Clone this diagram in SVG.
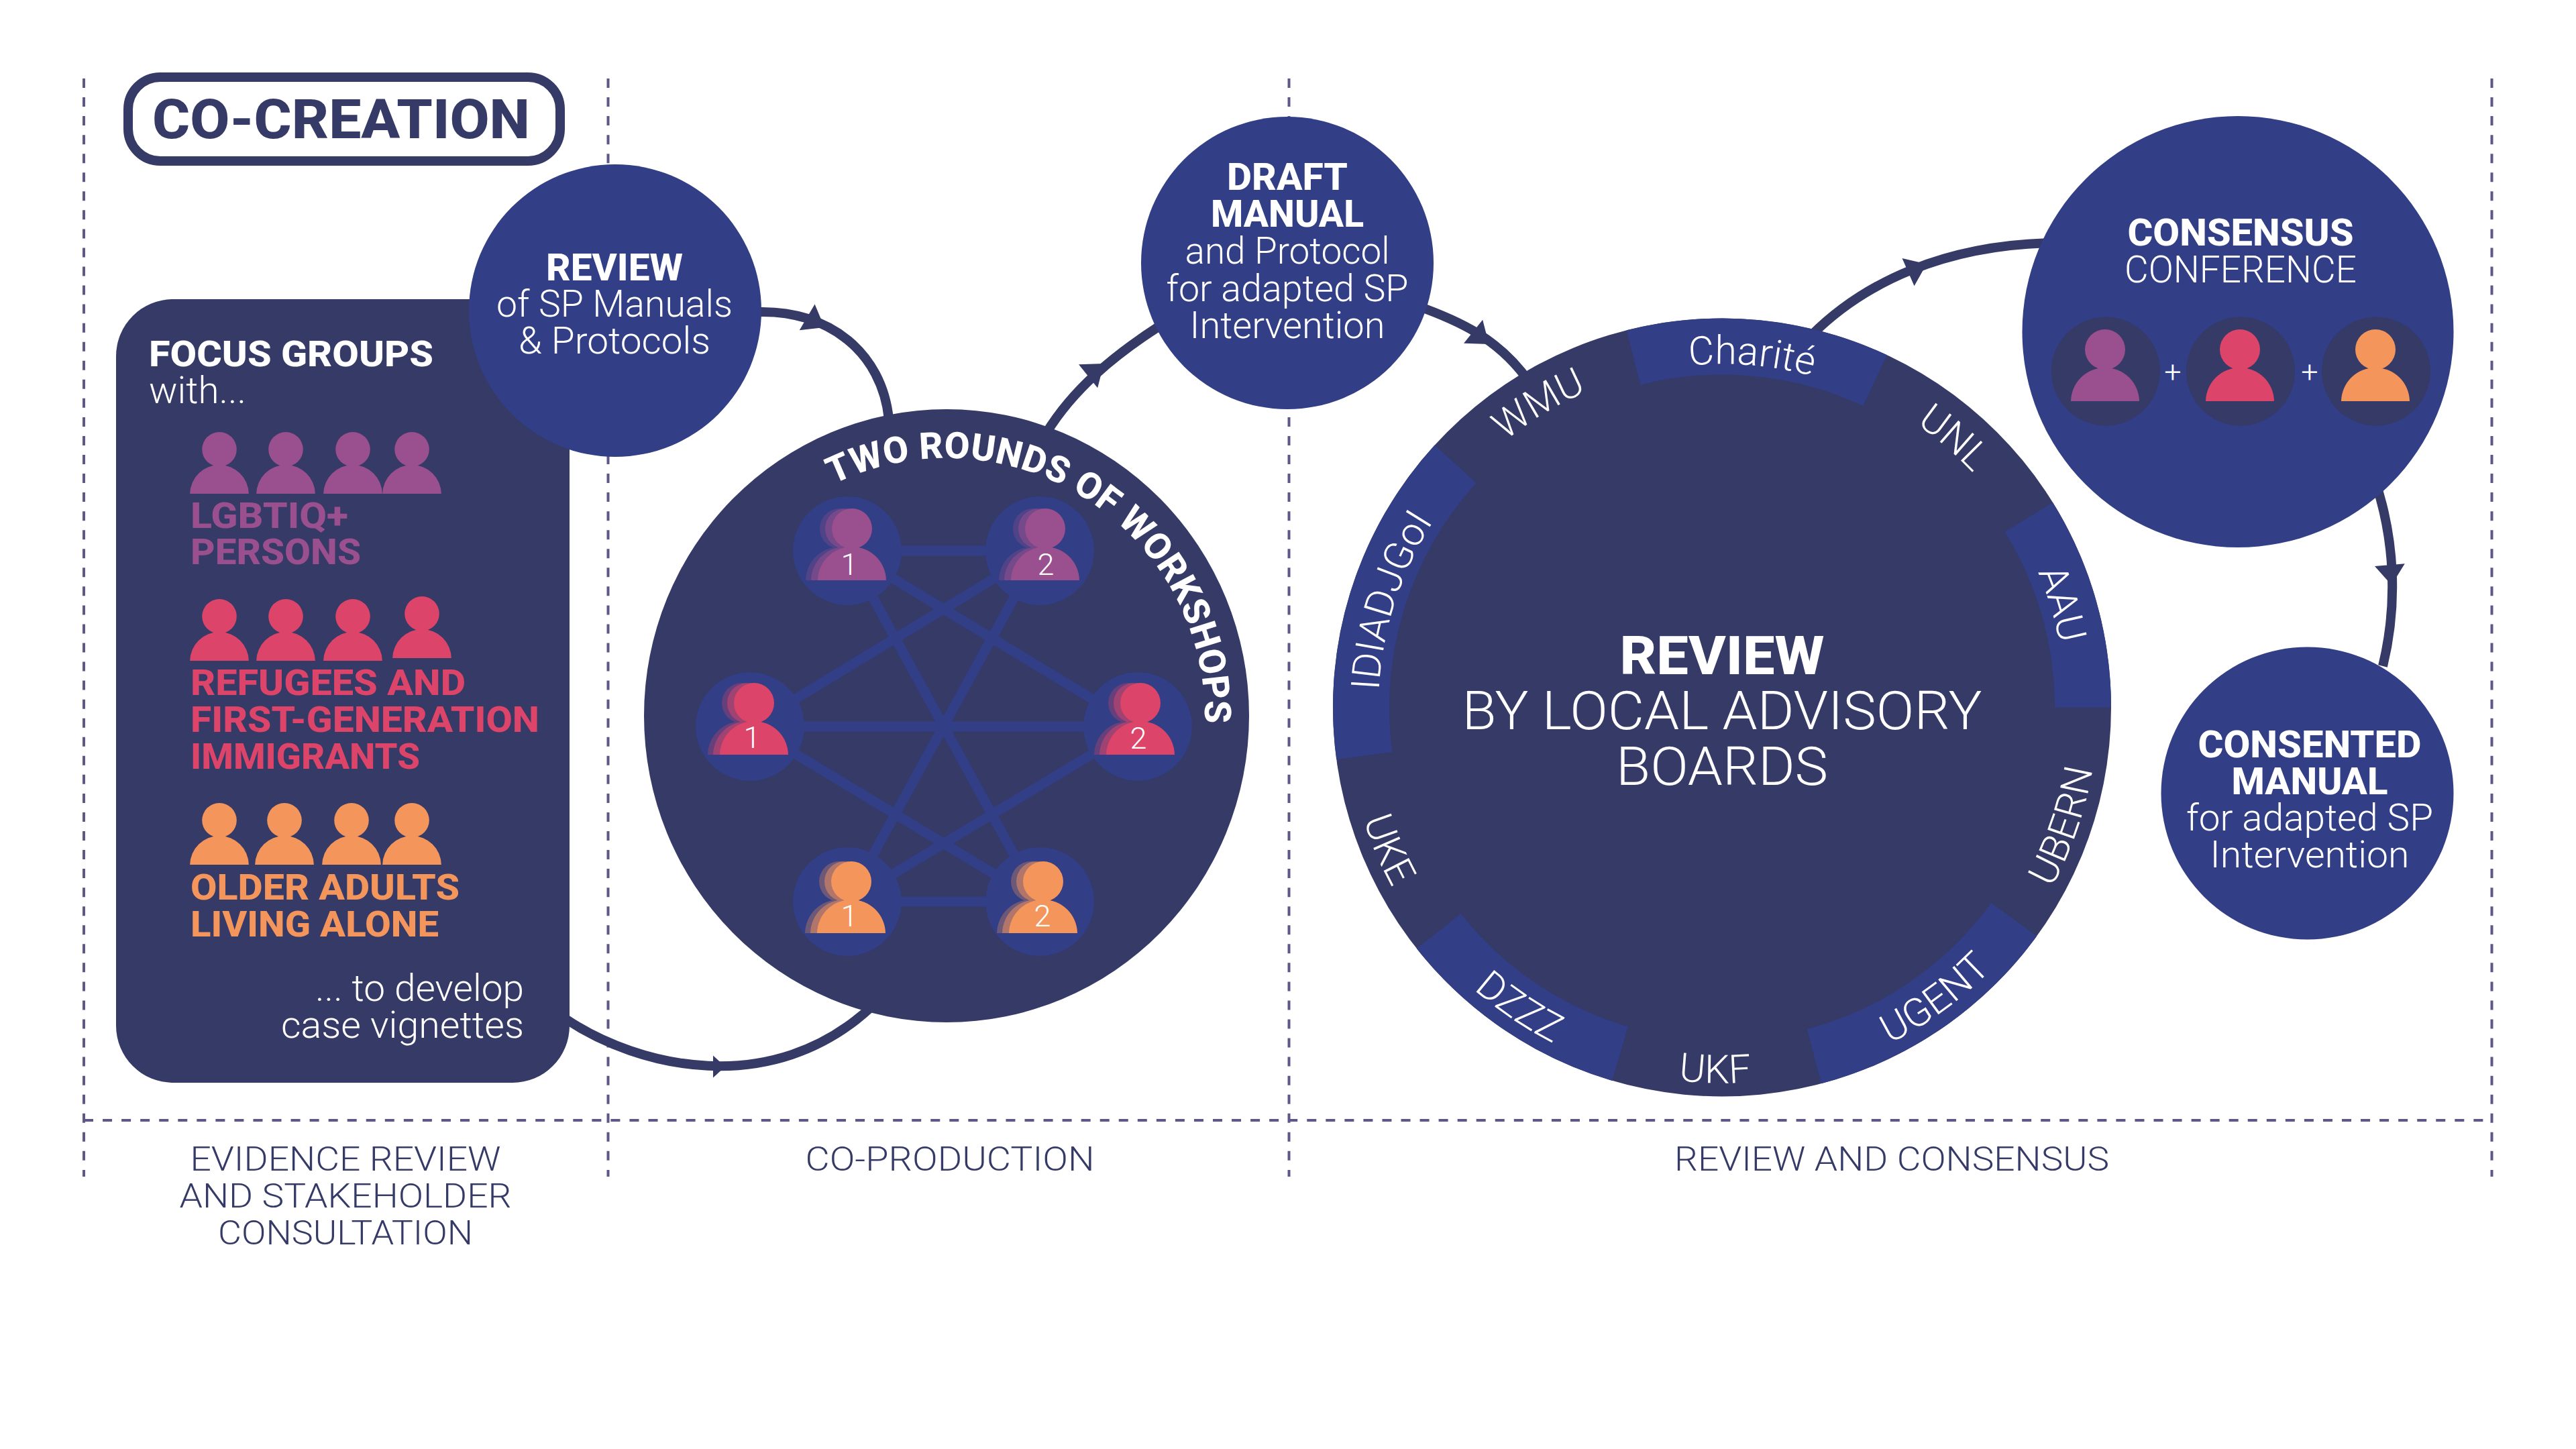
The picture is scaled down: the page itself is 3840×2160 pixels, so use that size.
<svg xmlns="http://www.w3.org/2000/svg" width="3840" height="2160" viewBox="0 0 3840 2160">
<style>
text{font-family:Roboto,"Liberation Sans",sans-serif;fill:#fff}
.b{font-weight:800}
.l{font-weight:300}
.m{text-anchor:middle}
.dark{fill:#353a67}
.blue{fill:#323e85}
.dash{fill:none;stroke:#5e5788;stroke-width:4;stroke-dasharray:14 14.05}
.conn{fill:none;stroke:#353a67;stroke-width:14}
.net{stroke:#323e85;stroke-width:15}
.pu{fill:#9a4f8e}
.pk{fill:#dc4569}
.or{fill:#f4955c}
.t53{font-size:53px}
.t55{font-size:55px}
.t45{font-size:45px}
.t80{font-size:80px}
.ring{font-size:59px;font-weight:300;text-anchor:middle}
.bk{opacity:.3}
.md{opacity:.5}
.lab{fill:#353a67;font-size:50px;font-weight:300;text-anchor:middle}
</style>
<defs>
<g id="person"><circle cx="0" cy="-77" r="30"/><path d="M-51 0A51 51 0 0 1 0-50A51 51 0 0 1 51 0Z"/></g>
<path id="ah" class="dark" d="M-30-22.500L0 0L-30 22.500Z"/>
<path id="arcUp" d="M2055 1054.500A512 512 0 0 1 3079 1054.500"/>
<path id="arcDown" d="M2007 1054.500A560 560 0 0 0 3127 1054.500"/>
<path id="arcWs" d="M1242 722A385 385 0 0 1 1794.500 1101.600"/>
</defs>

<g id="guides">
<path class="dash" d="M125 117V1754"/>
<path class="dash" d="M906.500 117V1754"/>
<path class="dash" d="M1921.500 117V1754"/>
<path class="dash" d="M3714.500 117V1754"/>
<path class="dash" d="M125 1670H3714"/>
</g>

<g id="connectors">
<path class="conn" d="M1130 465C1235 462 1315 525 1325 625"/>
<use href="#ah" transform="translate(1229 488) rotate(30.500)"/>
<path class="conn" d="M845 1520C950 1590 1150 1640 1300 1500"/>
<use href="#ah" transform="translate(1081 1590) scale(.6 .73)"/>
<path class="conn" d="M1560 645C1600 580 1660 530 1730 485"/>
<use href="#ah" transform="translate(1645.500 542) rotate(-38.700)"/>
<path class="conn" d="M2110 455C2175 478 2235 505 2280 570"/>
<use href="#ah" transform="translate(2219.500 513) rotate(38.700)"/>
<path class="conn" d="M2700 500C2780 420 2900 365 3060 362"/>
<use href="#ah" transform="translate(2872 393.500) rotate(-23.700)"/>
<path class="conn" d="M3540 715A500 500 0 0 1 3552 993"/>
<use href="#ah" transform="translate(3565 872) rotate(85)"/>
</g>

<g id="node-co-creation">
<rect x="191" y="115" width="644" height="125" rx="48" fill="#fff" stroke="#353a67" stroke-width="14"/>
<text class="b" x="227" y="206" font-size="82" style="fill:#353a67" textLength="563" lengthAdjust="spacingAndGlyphs">CO-CREATION</text>
</g>

<g id="node-focus-groups">
<rect class="dark" x="173" y="446" width="676" height="1168" rx="85"/>
<text class="b t53" x="222" y="546" textLength="424" lengthAdjust="spacingAndGlyphs">FOCUS GROUPS</text>
<text class="l t55" x="222" y="601" textLength="145" lengthAdjust="spacingAndGlyphs">with...</text>
<g class="pu">
<use href="#person" transform="translate(327 736) scale(.86)"/>
<use href="#person" transform="translate(426 736) scale(.86)"/>
<use href="#person" transform="translate(526 736) scale(.86)"/>
<use href="#person" transform="translate(614 736) scale(.86)"/>
</g>
<text class="b t53" style="fill:#9a4f8e" x="284" y="787" textLength="235" lengthAdjust="spacingAndGlyphs">LGBTIQ+</text>
<text class="b t53" style="fill:#9a4f8e" x="284" y="841" textLength="254" lengthAdjust="spacingAndGlyphs">PERSONS</text>
<g class="pk">
<use href="#person" transform="translate(327 985) scale(.86)"/>
<use href="#person" transform="translate(426 985) scale(.86)"/>
<use href="#person" transform="translate(526 985) scale(.86)"/>
<use href="#person" transform="translate(629 981) scale(.86)"/>
</g>
<text class="b t53" style="fill:#dc4569" x="284" y="1036" textLength="410" lengthAdjust="spacingAndGlyphs">REFUGEES AND</text>
<text class="b t53" style="fill:#dc4569" x="284" y="1091" textLength="520" lengthAdjust="spacingAndGlyphs">FIRST-GENERATION</text>
<text class="b t53" style="fill:#dc4569" x="284" y="1146" textLength="342" lengthAdjust="spacingAndGlyphs">IMMIGRANTS</text>
<g class="or">
<use href="#person" transform="translate(327 1289) scale(.86)"/>
<use href="#person" transform="translate(424 1289) scale(.86)"/>
<use href="#person" transform="translate(524 1289) scale(.86)"/>
<use href="#person" transform="translate(614 1289) scale(.86)"/>
</g>
<text class="b t53" style="fill:#f4955c" x="284" y="1341" textLength="401" lengthAdjust="spacingAndGlyphs">OLDER ADULTS</text>
<text class="b t53" style="fill:#f4955c" x="284" y="1396" textLength="370" lengthAdjust="spacingAndGlyphs">LIVING ALONE</text>
<text class="l t55" x="470" y="1492" textLength="311" lengthAdjust="spacingAndGlyphs">... to develop</text>
<text class="l t55" x="419" y="1547" textLength="362" lengthAdjust="spacingAndGlyphs">case vignettes</text>
</g>

<g id="node-review">
<circle class="blue" cx="917" cy="463" r="218"/>
<text class="b t55 m" x="916" y="418" textLength="204" lengthAdjust="spacingAndGlyphs">REVIEW</text>
<text class="l t55 m" x="916" y="472" textLength="352" lengthAdjust="spacingAndGlyphs">of SP Manuals</text>
<text class="l t55 m" x="916" y="527" textLength="286" lengthAdjust="spacingAndGlyphs">&amp; Protocols</text>
</g>

<g id="node-draft">
<circle class="blue" cx="1919" cy="392" r="218"/>
<text class="b t55 m" x="1919" y="283" textLength="180" lengthAdjust="spacingAndGlyphs">DRAFT</text>
<text class="b t55 m" x="1919" y="338" textLength="228" lengthAdjust="spacingAndGlyphs">MANUAL</text>
<text class="l t55 m" x="1919" y="393" textLength="305" lengthAdjust="spacingAndGlyphs">and Protocol</text>
<text class="l t55 m" x="1919" y="449" textLength="361" lengthAdjust="spacingAndGlyphs">for adapted SP</text>
<text class="l t55 m" x="1919" y="504" textLength="291" lengthAdjust="spacingAndGlyphs">Intervention</text>
</g>

<g id="node-workshops">
<ellipse class="dark" cx="1411" cy="1067" rx="451" ry="457"/>
<g class="net">
<path d="M1263 821H1550M1118 1083H1696M1263 1344H1550M1263 821L1550 1344M1550 821L1263 1344M1263 821L1696 1083M1550 821L1118 1083M1118 1083L1550 1344M1696 1083L1263 1344" fill="none"/>
</g>
<g class="blue">
<circle cx="1263" cy="821" r="81"/><circle cx="1550" cy="821" r="81"/>
<circle cx="1118" cy="1083" r="81"/><circle cx="1696" cy="1083" r="81"/>
<circle cx="1263" cy="1344" r="81"/><circle cx="1550" cy="1344" r="81"/>
</g>
<g class="pu">
<use class="bk" href="#person" transform="translate(1252 865)"/><use class="md" href="#person" transform="translate(1260 865)"/><use href="#person" transform="translate(1270 865)"/>
<use class="bk" href="#person" transform="translate(1540 865)"/><use class="md" href="#person" transform="translate(1548 865)"/><use href="#person" transform="translate(1558 865)"/>
</g>
<g class="pk">
<use class="bk" href="#person" transform="translate(1106 1125)"/><use class="md" href="#person" transform="translate(1114 1125)"/><use href="#person" transform="translate(1124 1125)"/>
<use class="bk" href="#person" transform="translate(1682 1125)"/><use class="md" href="#person" transform="translate(1690 1125)"/><use href="#person" transform="translate(1700 1125)"/>
</g>
<g class="or">
<use class="bk" href="#person" transform="translate(1251 1391)"/><use class="md" href="#person" transform="translate(1259 1391)"/><use href="#person" transform="translate(1269 1391)"/>
<use class="bk" href="#person" transform="translate(1537 1391)"/><use class="md" href="#person" transform="translate(1545 1391)"/><use href="#person" transform="translate(1555 1391)"/>
</g>
<text class="l t45 m" x="1266" y="857">1</text>
<text class="l t45 m" x="1559" y="857">2</text>
<text class="l t45 m" x="1121" y="1115">1</text>
<text class="l t45 m" x="1697" y="1116">2</text>
<text class="l t45 m" x="1266" y="1381">1</text>
<text class="l t45 m" x="1554" y="1381">2</text>
<text class="b" font-size="55" letter-spacing=".2"><textPath href="#arcWs">TWO ROUNDS OF WORKSHOPS</textPath></text>
</g>

<g id="node-local-boards">
<circle class="dark" cx="2567" cy="1054.500" r="580"/>
<g class="blue">
<path d="M2424.700 492.300A580 580 0 0 1 2813 529.300L2777.400 605.300A496 496 0 0 0 2445.300 573.700Z"/>
<path d="M3060 748.900A580 580 0 0 1 3147 1054.500H3063A496 496 0 0 0 2988.500 793.100Z"/>
<path d="M3036.200 1395.400A580 580 0 0 1 2715.100 1615.200L2693.700 1534A496 496 0 0 0 2968.300 1346Z"/>
<path d="M2403.300 1610.900A580 580 0 0 1 2111.800 1414L2177.700 1361.900A496 496 0 0 0 2427 1530.300Z"/>
<path d="M1992.200 1132.200A580 580 0 0 1 2138.700 663.400L2200.700 720A496 496 0 0 0 2075.500 1121Z"/>
</g>
<text class="ring"><textPath href="#arcUp" startOffset="9.900%">IDIADJGoI</textPath></text>
<text class="ring"><textPath href="#arcUp" startOffset="32.700%">WMU</textPath></text>
<text class="ring"><textPath href="#arcUp" startOffset="52.700%">Charité</textPath></text>
<text class="ring"><textPath href="#arcUp" startOffset="72.600%">UNL</textPath></text>
<text class="ring"><textPath href="#arcUp" startOffset="90.600%">AAU</textPath></text>
<text class="ring"><textPath href="#arcDown" startOffset="12.800%">UKE</textPath></text>
<text class="ring"><textPath href="#arcDown" startOffset="31.100%">DZZZ</textPath></text>
<text class="ring"><textPath href="#arcDown" startOffset="49.400%">UKF</textPath></text>
<text class="ring"><textPath href="#arcDown" startOffset="70.100%">UGENT</textPath></text>
<text class="ring"><textPath href="#arcDown" startOffset="89.400%">UBERN</textPath></text>
<text class="b t80 m" x="2567" y="1005" textLength="305" lengthAdjust="spacingAndGlyphs">REVIEW</text>
<text class="l t80 m" x="2567" y="1087" textLength="775" lengthAdjust="spacingAndGlyphs">BY LOCAL ADVISORY</text>
<text class="l t80 m" x="2567" y="1170" textLength="316" lengthAdjust="spacingAndGlyphs">BOARDS</text>
</g>

<g id="node-consensus">
<circle class="blue" cx="3336" cy="494.500" r="321.500"/>
<text class="b t55 m" x="3340" y="366" textLength="337" lengthAdjust="spacingAndGlyphs">CONSENSUS</text>
<text class="l t55 m" x="3340" y="421" textLength="346" lengthAdjust="spacingAndGlyphs">CONFERENCE</text>
<g class="dark">
<circle cx="3139" cy="553.500" r="81"/><circle cx="3340" cy="553.500" r="81"/><circle cx="3542" cy="553.500" r="81"/>
</g>
<use class="pu" href="#person" transform="translate(3138 598)"/>
<use class="pk" href="#person" transform="translate(3339 598)"/>
<use class="or" href="#person" transform="translate(3541 598)"/>
<text class="l t45 m" x="3239" y="570">+</text>
<text class="l t45 m" x="3443" y="570">+</text>
</g>

<g id="node-consented">
<circle class="blue" cx="3439.500" cy="1182.500" r="218"/>
<text class="b t55 m" x="3443" y="1129" textLength="333" lengthAdjust="spacingAndGlyphs">CONSENTED</text>
<text class="b t55 m" x="3443" y="1184" textLength="233" lengthAdjust="spacingAndGlyphs">MANUAL</text>
<text class="l t55 m" x="3443" y="1238" textLength="368" lengthAdjust="spacingAndGlyphs">for adapted SP</text>
<text class="l t55 m" x="3443" y="1293" textLength="297" lengthAdjust="spacingAndGlyphs">Intervention</text>
</g>

<g id="phase-labels">
<text class="lab" x="515" y="1745" textLength="463" lengthAdjust="spacingAndGlyphs">EVIDENCE REVIEW</text>
<text class="lab" x="515" y="1800" textLength="495" lengthAdjust="spacingAndGlyphs">AND STAKEHOLDER</text>
<text class="lab" x="515" y="1855" textLength="380" lengthAdjust="spacingAndGlyphs">CONSULTATION</text>
<text class="lab" x="1416" y="1745" textLength="431" lengthAdjust="spacingAndGlyphs">CO-PRODUCTION</text>
<text class="lab" x="2820" y="1745" textLength="648" lengthAdjust="spacingAndGlyphs">REVIEW AND CONSENSUS</text>
</g>
</svg>
